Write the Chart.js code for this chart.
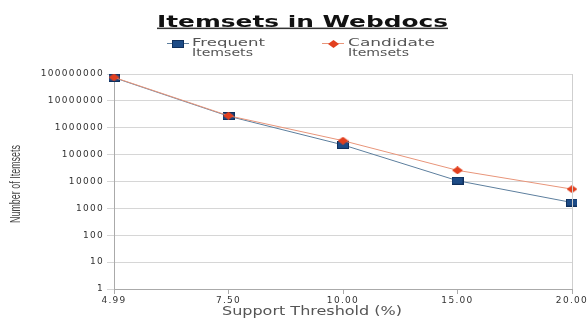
<!DOCTYPE html>
<html>
<head>
<meta charset="utf-8">
<script src="https://cdn.jsdelivr.net/npm/chart.js@4.4.1/dist/chart.umd.min.js"></script>
<style>
  html, body { margin: 0; padding: 0; background: #ffffff; }
  #wrap { width: 588px; height: 320px; position: relative; }
</style>
</head>
<body>
<div id="wrap"><canvas id="c" width="588" height="320"></canvas></div>
<script>
// ---- data ----
const chartTitle = 'Itemsets in Webdocs';
const xAxisTitle = 'Support Threshold (%)';
const yAxisTitle = 'Number of Itemsets';
const categories = ['4.99', '7.50', '10.00', '15.00', '20.00'];
const seriesNames = ['Frequent Itemsets', 'Candidate Itemsets'];
const frequentItemsets = [73000000, 2700000, 230000, 10700, 1650];
const candidateItemsets = [75000000, 2800000, 330000, 26000, 5200];
const yTickValues = [1, 10, 100, 1000, 10000, 100000, 1000000, 10000000, 100000000];

// ---- marker images ----
function makeMarker(w, h, draw) {
  const c = document.createElement('canvas');
  c.width = w; c.height = h;
  draw(c.getContext('2d'), w, h);
  return c;
}
const squareMarker = makeMarker(12, 8, (g, w, h) => {
  g.fillStyle = '#0f2f5c';
  g.fillRect(0, 0, w, h);
  g.fillStyle = '#1d4b86';
  g.fillRect(1, 1, w - 2, h - 2);
});
const diamondMarker = makeMarker(11, 8, (g, w, h) => {
  g.fillStyle = '#e2401f';
  g.beginPath();
  g.moveTo(w / 2, 0); g.lineTo(w, h / 2); g.lineTo(w / 2, h); g.lineTo(0, h / 2);
  g.closePath(); g.fill();
});

// draw text stretched horizontally to a given width
function fitText(ctx, text, x, y, width, align) {
  ctx.save();
  ctx.letterSpacing = '0px';
  const w0 = ctx.measureText(text).width;
  const sx = width / w0;
  let left = x;
  if (align === 'center') left = x - width / 2;
  ctx.translate(left, y);
  ctx.scale(sx, 1);
  ctx.textAlign = 'left';
  ctx.fillText(text, 0, 0);
  ctx.restore();
}

const decorPlugin = {
  id: 'decor',
  beforeDraw(chart) {
    chart.ctx.letterSpacing = '1.3px';
  },
  afterDraw(chart) {
    const ctx = chart.ctx;
    const a = chart.chartArea;
    ctx.save();
    ctx.letterSpacing = '0px';
    // right border
    ctx.strokeStyle = '#cfcfcf';
    ctx.lineWidth = 1;
    ctx.beginPath();
    ctx.moveTo(a.right + 0.5, a.top);
    ctx.lineTo(a.right + 0.5, a.bottom);
    ctx.stroke();

    // title
    ctx.fillStyle = '#111111';
    ctx.font = 'bold 16px "DejaVu Sans"';
    ctx.textBaseline = 'alphabetic';
    fitText(ctx, chartTitle, 157, 26.5, 291, 'left');
    ctx.fillStyle = '#333333';
    ctx.fillRect(157, 27.6, 291, 1.5);

    // legend
    const legendItems = [
      { x: 167, tx: 192, widths: [73, 61], img: squareMarker, color: '#5d7f9e' },
      { x: 322, tx: 348, widths: [87, 61], img: diamondMarker, color: '#e8957a' }
    ];
    ctx.font = '11px "DejaVu Sans"';
    ctx.textBaseline = 'middle';
    seriesNames.forEach((name, i) => {
      const it = legendItems[i];
      ctx.strokeStyle = it.color;
      ctx.lineWidth = 1;
      ctx.beginPath();
      ctx.moveTo(it.x, 43.5);
      ctx.lineTo(it.x + 22, 43.5);
      ctx.stroke();
      ctx.drawImage(it.img, Math.round(it.x + 11 - it.img.width / 2), Math.round(43.5 - it.img.height / 2));
      const parts = name.split(' ');
      ctx.fillStyle = '#555555';
      fitText(ctx, parts[0], it.tx, 43, it.widths[0], 'left');
      fitText(ctx, parts[1], it.tx, 53.5, it.widths[1], 'left');
    });

    // x axis title
    ctx.fillStyle = '#555555';
    ctx.font = '13px "DejaVu Sans"';
    ctx.textBaseline = 'middle';
    fitText(ctx, xAxisTitle, 312, 312, 180, 'center');

    // y axis title (rotated, narrow)
    ctx.translate(16, 184);
    ctx.rotate(-Math.PI / 2);
    ctx.font = '14px "Liberation Sans Narrow", "Liberation Sans", sans-serif';
    const w = ctx.measureText(yAxisTitle).width;
    ctx.scale(78 / w, 1);
    ctx.textAlign = 'center';
    ctx.textBaseline = 'middle';
    ctx.fillStyle = '#444444';
    ctx.fillText(yAxisTitle, 0, 0);
    ctx.restore();
  }
};

new Chart(document.getElementById('c'), {
  type: 'line',
  data: {
    labels: categories,
    datasets: [
      {
        label: seriesNames[0],
        data: frequentItemsets,
        borderColor: '#5d7f9e',
        borderWidth: 1,
        pointStyle: squareMarker,
        order: 1,
        tension: 0
      },
      {
        label: seriesNames[1],
        data: candidateItemsets,
        borderColor: '#e8957a',
        borderWidth: 1,
        pointStyle: diamondMarker,
        order: 0,
        tension: 0
      }
    ]
  },
  options: {
    responsive: false,
    animation: false,
    devicePixelRatio: 1,
    layout: { padding: { top: 74, right: 16, left: 0, bottom: 0 } },
    plugins: {
      legend: { display: false },
      title: { display: false },
      tooltip: { enabled: false }
    },
    scales: {
      x: {
        type: 'category',
        offset: false,
        grid: { drawOnChartArea: false, drawTicks: true, tickLength: 5, color: '#aaaaaa' },
        border: { display: true, color: '#aaaaaa' },
        ticks: {
          color: '#333333',
          font: { family: 'DejaVu Sans', size: 9 },
          padding: 1,
          maxRotation: 0,
          autoSkip: false
        },
        afterFit(s) { s.height = 31; }
      },
      y: {
        type: 'logarithmic',
        min: 1,
        max: 100000000,
        afterBuildTicks(s) { s.ticks = yTickValues.map(v => ({ value: v })); },
        grid: { color: '#d6d6d6', drawTicks: true, tickLength: 7, lineWidth: 1 },
        border: { display: true, color: '#aaaaaa' },
        ticks: {
          color: '#333333',
          font: { family: 'DejaVu Sans', size: 9 },
          padding: 3,
          callback: (v) => String(v)
        },
        afterFit(s) { s.width = 114; }
      }
    }
  },
  plugins: [decorPlugin]
});
</script>
</body>
</html>
